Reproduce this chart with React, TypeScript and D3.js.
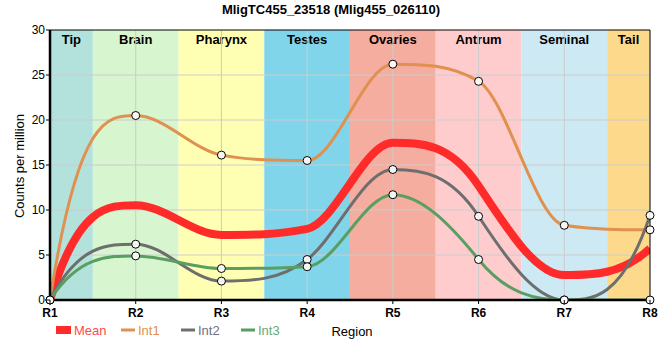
import React from "react";
import * as d3 from "d3";

const regions = ["R1", "R2", "R3", "R4", "R5", "R6", "R7", "R8"];
const tissues = ["Tip", "Brain", "Pharynx", "Testes", "Ovaries", "Antrum", "Seminal", "Tail"];
const tissueColors = ["#b3e2dd", "#d7f5cf", "#ffffb4", "#80d5eb", "#f5ada0", "#ffccce", "#cdeaf4", "#fdd98b"];
const int1 = [0, 20.5, 16.1, 15.5, 26.2, 24.3, 8.3, 7.8];
const int2 = [0, 6.2, 2.1, 4.5, 14.5, 9.3, 0, 9.4];
const int3 = [0, 4.9, 3.5, 3.7, 11.7, 4.5, 0, 0];
const mean = int1.map((v, i) => (v + int2[i] + int3[i]) / 3);
const yTicks = [0, 5, 10, 15, 20, 25, 30];
const title = "MligTC455_23518 (Mlig455_026110)";

const W = 660, H = 360;
const L = 50, R = 650, T = 30, B = 300;
const FONT = "'Liberation Sans', Arial, sans-serif";

// monotone cubic path with wide tangents (limited to 3x the adjacent slopes)
function smoothPath(xs: number[], ys: number[]): string {
  const n = xs.length;
  const s: number[] = [];
  for (let i = 0; i < n - 1; i++) s.push((ys[i + 1] - ys[i]) / (xs[i + 1] - xs[i]));
  const m: number[] = new Array(n).fill(0);
  for (let i = 1; i < n - 1; i++) {
    const a = s[i - 1], b = s[i];
    if (Math.sign(a) !== Math.sign(b) || a === 0 || b === 0) { m[i] = 0; continue; }
    m[i] = Math.sign(a) * Math.min(3 * Math.abs(a), 3 * Math.abs(b), Math.abs(a + b));
  }
  const endT = (sl: number, adj: number) => {
    const v = 3 * sl - adj;
    if (sl === 0 || Math.sign(v) !== Math.sign(sl)) return 0;
    return Math.sign(sl) * Math.min(Math.abs(v), 3 * Math.abs(sl));
  };
  m[0] = endT(s[0], m[1]);
  m[n - 1] = endT(s[n - 2], m[n - 2]);
  const path = d3.path();
  path.moveTo(xs[0], ys[0]);
  for (let i = 0; i < n - 1; i++) {
    const dx = (xs[i + 1] - xs[i]) / 3;
    path.bezierCurveTo(xs[i] + dx, ys[i] + m[i] * dx, xs[i + 1] - dx, ys[i + 1] - m[i + 1] * dx, xs[i + 1], ys[i + 1]);
  }
  return path.toString();
}

export default function App() {
  const x = d3.scalePoint<string>().domain(regions).range([L, R]);
  const y = d3.scaleLinear().domain([0, 30]).range([B, T]);
  const step = x.step();
  const xs = regions.map((r) => x(r) as number);
  const line = (data: number[]) => smoothPath(xs, data.map((d) => y(d)));

  const series = [
    { name: "Int1", data: int1, color: "#e0904f", width: 3 },
    { name: "Int2", data: int2, color: "#6e6e6e", width: 3 },
    { name: "Int3", data: int3, color: "#5a9e63", width: 3 },
  ];

  const legendItems = [
    { name: "Mean", color: "#ff2a2a", text: "#ff4a4a", x: 56, rect: true },
    { name: "Int1", color: "#e0904f", text: "#e0904f", x: 121, rect: false },
    { name: "Int2", color: "#6e6e6e", text: "#707080", x: 181, rect: false },
    { name: "Int3", color: "#5a9e63", text: "#66aa77", x: 241, rect: false },
  ];

  return (
    <svg width={W} height={H} style={{ position: "absolute", left: 0, top: 0, background: "#fff" }} fontFamily={FONT}>
      <defs>
        <clipPath id="plot">
          <rect x={L} y={T} width={R - L} height={B - T} />
        </clipPath>
      </defs>
      <text x={331} y={14} textAnchor="middle" fontSize={13} fontWeight="bold">
        {title}
      </text>
      {regions.map((r, i) => {
        const cx = x(r) as number;
        const x0 = Math.max(L, cx - step / 2);
        const x1 = Math.min(R, cx + step / 2);
        return (
          <g key={r}>
            <rect x={x0} y={T} width={x1 - x0} height={B - T} fill={tissueColors[i]} />
            <text x={(x0 + x1) / 2} y={44} textAnchor="middle" fontSize={13} fontWeight="bold">
              {tissues[i]}
            </text>
          </g>
        );
      })}
      {yTicks.slice(1, -1).map((t) => (
        <line key={t} x1={L} x2={R} y1={y(t)} y2={y(t)} stroke="#cccccc" strokeWidth={1} />
      ))}
      {regions.slice(1, -1).map((r) => (
        <line key={r} x1={x(r)} x2={x(r)} y1={T} y2={B} stroke="#cccccc" strokeWidth={1} />
      ))}
      <g clipPath="url(#plot)">
        <path d={line(mean)} fill="none" stroke="#ff2a2a" strokeWidth={8} />
        {series.map((s) => (
          <path key={s.name} d={line(s.data)} fill="none" stroke={s.color} strokeWidth={s.width} />
        ))}
      </g>
      <line x1={L} x2={R} y1={T} y2={T} stroke="#000" strokeWidth={1} />
      <line x1={R} x2={R} y1={T} y2={B} stroke="#000" strokeWidth={1} />
      <line x1={L} x2={L} y1={T} y2={B + 1} stroke="#000" strokeWidth={2.5} />
      <line x1={L - 1} x2={R} y1={B} y2={B} stroke="#000" strokeWidth={2.5} />
      {series.map((s) =>
        s.data.map((v, i) => (
          <circle key={s.name + i} cx={x(regions[i])} cy={y(v)} r={4} fill="#fff" fillOpacity={0.9} stroke="#000" strokeWidth={1} />
        ))
      )}
      {yTicks.map((t) => (
        <g key={t}>
          <line x1={L - 4} x2={L} y1={y(t)} y2={y(t)} stroke="#000" />
          <text x={L - 5} y={y(t) + 4} textAnchor="end" fontSize={12}>
            {t}
          </text>
        </g>
      ))}
      {regions.map((r) => (
        <g key={r}>
          <line x1={x(r)} x2={x(r)} y1={B} y2={B + 4} stroke="#000" />
          <text x={x(r)} y={317} textAnchor="middle" fontSize={12} fontWeight="bold">
            {r}
          </text>
        </g>
      ))}
      <text transform={`translate(24,166) rotate(-90)`} textAnchor="middle" fontSize={13}>
        Counts per million
      </text>
      {legendItems.map((it) => (
        <g key={it.name}>
          {it.rect ? (
            <rect x={it.x} y={326} width={15} height={8} fill={it.color} />
          ) : (
            <line x1={it.x} x2={it.x + 14} y1={330} y2={330} stroke={it.color} strokeWidth={3} />
          )}
          <text x={it.x + (it.rect ? 18 : 17)} y={335} fontSize={13} fill={it.text}>
            {it.name}
          </text>
        </g>
      ))}
      <text x={352} y={336} textAnchor="middle" fontSize={13}>
        Region
      </text>
    </svg>
  );
}
